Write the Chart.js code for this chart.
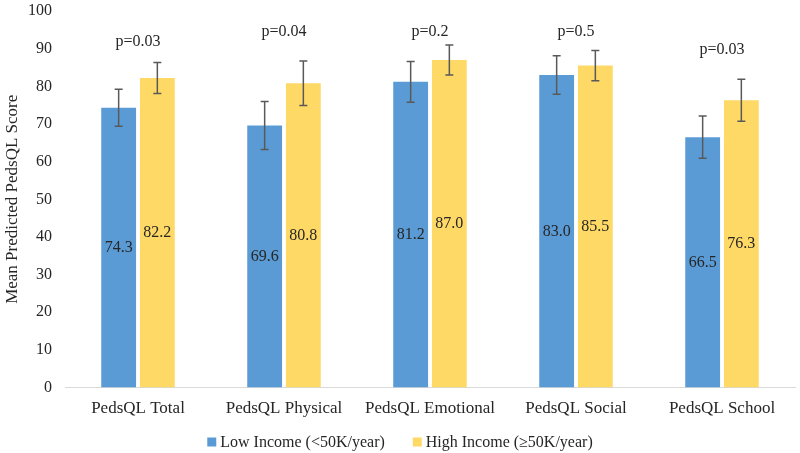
<!DOCTYPE html>
<html>
<head>
<meta charset="utf-8">
<script src="https://cdn.jsdelivr.net/npm/chart.js@4/dist/chart.umd.min.js"></script>
<style>
  html, body { margin: 0; padding: 0; background: #fff; }
  #wrap { width: 800px; height: 453px; position: relative; }
</style>
</head>
<body>
<div id="wrap"><canvas id="chart"></canvas></div>
<script>
"use strict";

const CATEGORIES = ["PedsQL Total", "PedsQL Physical", "PedsQL Emotional", "PedsQL Social", "PedsQL School"];
const LOW_INCOME = [74.3, 69.6, 81.2, 83.0, 66.5];
const HIGH_INCOME = [82.2, 80.8, 87.0, 85.5, 76.3];
const LOW_ERR = [4.9, 6.4, 5.4, 5.1, 5.6];     // +/- half-width of the error bar
const HIGH_ERR = [4.1, 5.9, 4.0, 4.0, 5.6];
const P_VALUES = ["p=0.03", "p=0.04", "p=0.2", "p=0.5", "p=0.03"];
const Y_TICKS = [0, 10, 20, 30, 40, 50, 60, 70, 80, 90, 100];

const FONT = "'Liberation Serif', 'Times New Roman', serif";
const INK = "#262626";

// Error bars, centred value labels, p-values above each group, and the legend row.
const annotate = {
  id: "annotate",
  afterDatasetsDraw(chart, args, opts) {
    const { ctx, scales: { x, y } } = chart;
    ctx.save();
    ctx.textAlign = "center"; ctx.textBaseline = "middle";
    chart.data.datasets.forEach((ds, di) => {
      const meta = chart.getDatasetMeta(di);
      meta.data.forEach((bar, i) => {
        const v = ds.data[i], e = ds.err[i];
        ctx.fillStyle = INK;
        ctx.font = "16px " + FONT;
        ctx.fillText(v.toFixed(1), bar.x, (bar.y + bar.base) / 2);
        const top = y.getPixelForValue(v + e), bot = y.getPixelForValue(v - e);
        ctx.strokeStyle = "#595959"; ctx.lineWidth = 1.5;
        ctx.beginPath();
        ctx.moveTo(bar.x, top); ctx.lineTo(bar.x, bot);
        ctx.moveTo(bar.x - 4, top); ctx.lineTo(bar.x + 4, top);
        ctx.moveTo(bar.x - 4, bot); ctx.lineTo(bar.x + 4, bot);
        ctx.stroke();
      });
    });
    ctx.fillStyle = INK;
    ctx.font = "16px " + FONT;
    P_VALUES.forEach((p, i) => {
      ctx.fillText(p, x.getPixelForValue(i), y.getPixelForValue(opts.at[i]));
    });

    // legend: square swatch + label, centred under the plot
    ctx.font = "16px " + FONT;
    ctx.textAlign = "left";
    const items = chart.data.datasets.map((ds) => ({ text: ds.label, color: ds.backgroundColor }));
    const box = 9, gap = 4, sep = 28;
    const widths = items.map((it) => box + gap + ctx.measureText(it.text).width);
    const total = widths.reduce((a, b) => a + b, 0) + sep * (items.length - 1);
    let cx = (chart.width - total) / 2;
    const cy = opts.legendY;
    items.forEach((it, i) => {
      ctx.fillStyle = it.color;
      ctx.fillRect(cx, cy - box / 2, box, box);
      ctx.fillStyle = INK;
      ctx.fillText(it.text, cx + box + gap, cy + 1);
      cx += widths[i] + sep;
    });
    ctx.restore();
  },
};

new Chart(document.getElementById("chart"), {
  type: "bar",
  data: {
    labels: CATEGORIES,
    datasets: [
      { label: "Low Income (<50K/year)", data: LOW_INCOME, err: LOW_ERR,
        backgroundColor: "#5B9BD5", borderWidth: 0 },
      { label: "High Income (\u226550K/year)", data: HIGH_INCOME, err: HIGH_ERR,
        backgroundColor: "#FFD966", borderWidth: 0 },
    ],
  },
  plugins: [annotate],
  options: {
    responsive: true, maintainAspectRatio: false, animation: false,
    layout: { padding: { top: 0, right: 5, left: 0, bottom: 23 } },
    datasets: { bar: { categoryPercentage: 0.53, barPercentage: 0.9 } },
    scales: {
      x: {
        grid: { display: false, drawTicks: false },
        border: { color: "#d9d9d9", width: 1 },
        ticks: { color: INK, padding: 11, font: { family: FONT, size: 17 } },
      },
      y: {
        min: 0, max: 100,
        afterBuildTicks: (ax) => { ax.ticks = Y_TICKS.map((v) => ({ value: v })); },
        afterFit: (ax) => { ax.width = 65; ax.paddingTop = 11; ax.paddingBottom = 0; },
        grid: { display: false, drawTicks: false },
        border: { display: false },
        ticks: { color: INK, padding: 13, font: { family: FONT, size: 16 } },
        title: { display: true, text: "Mean Predicted PedsQL Score", color: INK,
                 padding: { top: 2, bottom: 4 }, font: { family: FONT, size: 17 } },
      },
    },
    plugins: {
      annotate: { at: [91.7, 94.5, 94.5, 94.5, 89.7], legendY: 442 },
      tooltip: { enabled: false },
      legend: { display: false },
    },
  },
});
</script>
</body>
</html>
